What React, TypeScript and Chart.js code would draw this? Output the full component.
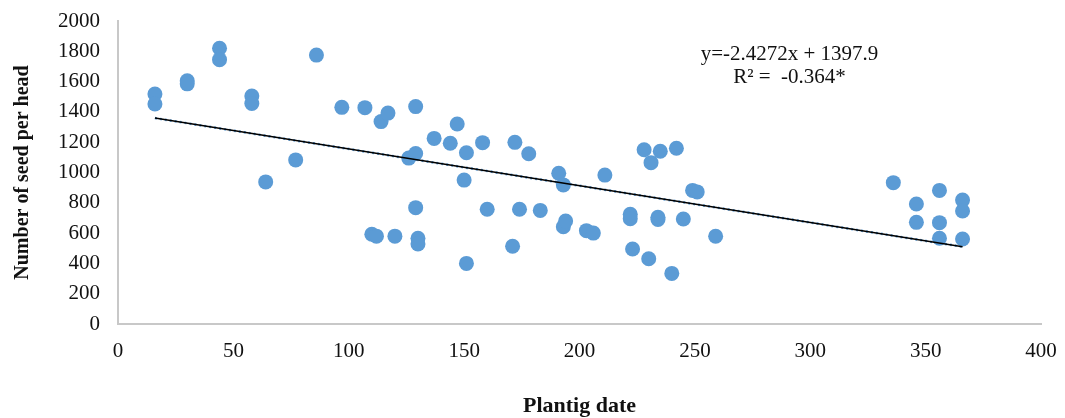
import React, { useEffect, useRef } from "react";
import { Chart, registerables } from "chart.js";

Chart.register(...registerables);

// Planting date (days) and number of seeds per head for each observation
const plantingDays: number[] = [
  16, 16, 30, 30, 44, 44, 58, 58, 64, 77, 86, 97, 107, 110, 112, 114, 117, 120,
  126, 129, 129, 129, 130, 130, 137, 144, 147, 150, 151, 151, 158, 160, 171, 172,
  174, 178, 183, 191, 193, 193, 194, 203, 206, 211, 222, 222, 223, 228, 230, 231,
  234, 234, 235, 240, 242, 245, 249, 251, 259, 336, 346, 346, 356, 356, 356, 366,
  366, 366,
];
const seedsPerHead: number[] = [
  1518, 1452, 1605, 1585, 1820, 1745, 1505, 1455, 938, 1083, 1775, 1430, 1428, 592,
  580, 1336, 1392, 580, 1095, 1435, 1125, 768, 566, 528, 1225, 1193, 1320, 950,
  1130, 400, 1197, 757, 513, 1199, 757, 1124, 750, 995, 918, 642, 680, 616, 600,
  983, 724, 695, 495, 1150, 431, 1065, 705, 690, 1140, 334, 1160, 693, 882, 872,
  579, 933, 792, 671, 882, 669, 566, 818, 746, 561,
];

// Linear trend reported for the data
const SLOPE = -2.4272;
const INTERCEPT = 1397.9;
const R_LABEL = "R² =  -0.364*";

const X_TICKS: number[] = [0, 50, 100, 150, 200, 250, 300, 350, 400];
const Y_TICKS: number[] = [0, 200, 400, 600, 800, 1000, 1200, 1400, 1600, 1800, 2000];

// Where the equation label sits, in data units
const LABEL_X = 291;
const LABEL_Y = 1782;

const SERIF = '"Liberation Serif", "Times New Roman", Times, serif';

const equationLabel = {
  id: "equationLabel",
  afterDatasetsDraw(chart: any) {
    const { ctx, scales } = chart;
    const px = scales.x.getPixelForValue(LABEL_X);
    const py = scales.y.getPixelForValue(LABEL_Y);
    const lines = [`y=${SLOPE}x + ${INTERCEPT}`, R_LABEL];
    ctx.save();
    ctx.font = `21px ${SERIF}`;
    ctx.fillStyle = "#111";
    ctx.textAlign = "center";
    ctx.textBaseline = "middle";
    lines.forEach((t, i) => ctx.fillText(t, px, py + i * 23));
    ctx.restore();
  },
};

export default function App() {
  const canvasRef = useRef<HTMLCanvasElement | null>(null);

  useEffect(() => {
    if (!canvasRef.current) return;
    const points = plantingDays.map((d, i) => ({ x: d, y: seedsPerHead[i] }));
    const xMin = Math.min(...plantingDays);
    const xMax = Math.max(...plantingDays);
    const trend = [xMin, xMax].map((d) => ({ x: d, y: SLOPE * d + INTERCEPT }));

    // invisible tick marks give the labels their gap from the axis lines
    const hiddenTicks = (len: number) => ({
      display: true,
      drawOnChartArea: false,
      drawTicks: true,
      tickLength: len,
      color: "rgba(0,0,0,0)",
    });

    const chart = new Chart(canvasRef.current, {
      type: "scatter",
      data: {
        datasets: [
          {
            type: "scatter",
            label: "Seeds per head",
            data: points,
            backgroundColor: "#5b9bd5",
            borderColor: "#5b9bd5",
            borderWidth: 0,
            pointRadius: 7.5,
            order: 3,
          },
          {
            type: "line",
            label: "Trend (dotted)",
            data: trend,
            borderColor: "#5b9bd5",
            borderWidth: 2.5,
            borderDash: [2, 3],
            pointRadius: 0,
            fill: false,
            order: 2,
          },
          {
            type: "line",
            label: "Trend",
            data: trend,
            borderColor: "#000",
            borderWidth: 1.5,
            pointRadius: 0,
            fill: false,
            order: 1,
          },
        ],
      },
      options: {
        responsive: false,
        animation: false,
        layout: { padding: { top: 21, right: 24, bottom: 0, left: 0 } },
        plugins: {
          legend: { display: false },
          tooltip: { enabled: false },
        },
        scales: {
          x: {
            type: "linear",
            min: 0,
            max: 400,
            afterBuildTicks: (s: any) => {
              s.ticks = X_TICKS.map((v) => ({ value: v }));
            },
            afterFit: (s: any) => {
              s.height = 94;
            },
            grid: hiddenTicks(15),
            border: { display: true, color: "#c8c8c8", width: 2 },
            ticks: {
              color: "#111",
              padding: 0,
              font: { family: SERIF, size: 21 },
              maxRotation: 0,
              callback: (v: any) => String(v),
            },
            title: {
              display: true,
              text: "Plantig date",
              color: "#111",
              font: { family: SERIF, size: 22, weight: "bold" },
              padding: { top: 0, bottom: -2 },
            },
          },
          y: {
            type: "linear",
            min: 0,
            max: 2000,
            afterBuildTicks: (s: any) => {
              s.ticks = Y_TICKS.map((v) => ({ value: v }));
            },
            afterFit: (s: any) => {
              s.width = 118;
            },
            grid: hiddenTicks(18),
            border: { display: true, color: "#c8c8c8", width: 2 },
            ticks: {
              color: "#111",
              padding: 0,
              font: { family: SERIF, size: 21 },
              callback: (v: any) => String(v),
            },
            title: {
              display: true,
              text: "Number of seed per head",
              color: "#111",
              font: { family: SERIF, size: 20, weight: "bold" },
              padding: { top: 11, bottom: 0 },
            },
          },
        },
      },
      plugins: [equationLabel],
    });

    return () => chart.destroy();
  }, []);

  return (
    <div style={{ position: "absolute", left: 0, top: 0, width: 1065, height: 418, background: "#fff" }}>
      <canvas ref={canvasRef} width={1065} height={418} style={{ display: "block" }} />
    </div>
  );
}
